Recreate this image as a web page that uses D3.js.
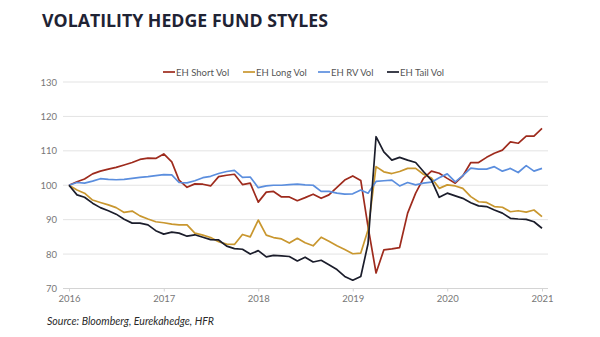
<!DOCTYPE html>
<html>
<head>
<meta charset="utf-8">
<script src="https://cdn.jsdelivr.net/npm/d3@7"></script>
<style>
  html, body { margin: 0; padding: 0; background: #fff; }
  svg { display: block; }
</style>
</head>
<body>
<svg id="chart" width="600" height="337"></svg>
<script>
// ---- data (monthly, Jan 2016 – Jan 2021) ----
const startYear = 2016;
const endYear = 2021;
const yTicks = [70, 80, 90, 100, 110, 120, 130];
const xTickYears = [2016, 2017, 2018, 2019, 2020, 2021];
const seriesNames = ["EH Short Vol", "EH Long Vol", "EH RV Vol", "EH Tail Vol"];

const shortVol = [100, 101, 101.8, 103.3, 104.1, 104.7, 105.2, 105.9, 106.6, 107.5, 107.9, 107.8, 109.1,
  106.8, 101.5, 99.4, 100.4, 100.3, 99.8, 102.5, 102.9, 103.2, 100.2, 100.6, 95.1,
  98, 98.2, 96.6, 96.6, 95.5, 96.4, 97.4, 96.2, 97.2, 99.4, 101.5, 102.7,
  101.4, 88, 74.5, 81.2, 81.5, 81.9, 91.9, 97.7, 102, 104.1, 103.5, 102,
  100.6, 102.7, 106.6, 106.6, 108.1, 109.3, 110.2, 112.6, 112.2, 114.3, 114.3, 116.5];

const longVol = [100, 98.6, 97.7, 95.7, 95, 94.3, 93.5, 92.1, 92.5, 91.1, 90.2, 89.4, 89.1,
  88.7, 88.5, 88.5, 86.1, 85.5, 84.8, 83.6, 82.9, 82.8, 85.7, 85, 89.9,
  85.5, 84.8, 84.4, 83.2, 84.6, 83.3, 82.4, 84.9, 83.7, 82.4, 81.3, 80.1,
  80.3, 87, 105.4, 103.9, 103.4, 104, 104.9, 104.9, 103.2, 102.1, 99.1, 100.1,
  99.8, 99.1, 96.7, 95.2, 95, 93.8, 93.6, 92.3, 92.6, 92.2, 92.8, 90.9];

const rvVol = [100, 100.8, 100.6, 101.2, 101.9, 101.7, 101.6, 101.7, 102, 102.3, 102.5, 102.8, 103.1,
  103, 100.8, 100.7, 101.3, 102.2, 102.6, 103.4, 104, 104.3, 102.3, 102.4, 99.3,
  99.8, 100, 100, 100.2, 100.3, 100.1, 100, 98.2, 98.2, 97.7, 97.4, 97.5,
  98.6, 97.7, 101.1, 101.3, 101.5, 99.8, 100.8, 100.1, 100.6, 100.9, 102.2, 103.3,
  101, 102.8, 105, 104.7, 104.7, 105.4, 104.1, 104.9, 103.7, 105.7, 104.1, 104.9];

const tailVol = [100, 97.2, 96.5, 94.8, 93.5, 92.6, 91.6, 90.1, 89, 89, 88.5, 86.8, 85.8,
  86.4, 86.1, 85.2, 85.6, 84.9, 84.2, 84.1, 82.3, 81.6, 81.4, 80, 81,
  79.2, 79.6, 79.5, 79.3, 78, 79.1, 77.7, 78.2, 76.9, 75.5, 73.5, 72.4,
  73.5, 83, 114.1, 109.7, 107.3, 108.1, 107.3, 106.6, 104, 101.5, 96.5, 97.7,
  96.9, 96.2, 94.9, 94, 93.8, 92.8, 91.9, 90.4, 90.2, 90.1, 89.4, 87.5];

const colors = ["#9e2b1d", "#c9972f", "#5b8ede", "#1b1d2b"];
const allSeries = [shortVol, longVol, rvVol, tailVol];

// ---- layout ----
const svg = d3.select("#chart");

const dates = shortVol.map((_, i) => new Date(startYear, i, 1));

const x = d3.scaleTime()
  .domain([new Date(startYear, 0, 1), new Date(endYear, 0, 1)])
  .range([69, 542]);

const y = d3.scaleLinear()
  .domain([70, 130])
  .range([288.5, 82]);

// title
svg.append("text")
  .attr("x", 42).attr("y", 27)
  .attr("font-family", "'Open Sans', sans-serif")
  .attr("font-weight", 700)
  .attr("font-size", 17)
  .attr("textLength", 286)
  .attr("lengthAdjust", "spacingAndGlyphs")
  .attr("fill", "#1f2334")
  .text("VOLATILITY HEDGE FUND STYLES");

// gridlines
const grid = svg.append("g");
grid.selectAll("line").data(yTicks).join("line")
  .attr("x1", 63).attr("x2", 548)
  .attr("y1", d => y(d)).attr("y2", d => y(d))
  .attr("stroke", d => d === 70 ? "#d4d4d4" : "#e3e3e3")
  .attr("stroke-width", 1);

// y axis labels
const yAxis = d3.axisLeft(y).tickValues(yTicks).tickSize(0).tickPadding(0);
svg.append("g")
  .attr("transform", "translate(57,0)")
  .call(yAxis)
  .call(g => g.select(".domain").remove())
  .call(g => g.selectAll("text")
    .attr("font-family", "Lato, sans-serif")
    .attr("font-size", 9.5)
    .attr("fill", "#777"));

// x axis
const xAxis = d3.axisBottom(x)
  .tickValues(xTickYears.map(yv => new Date(yv, 0, 1)))
  .tickFormat(d3.timeFormat("%Y"))
  .tickSize(3).tickPadding(4);
svg.append("g")
  .attr("transform", `translate(0,${y(70)})`)
  .call(xAxis)
  .call(g => g.select(".domain").remove())
  .call(g => g.selectAll("line").attr("stroke", "#d4d4d4"))
  .call(g => g.selectAll("text")
    .attr("font-family", "Lato, sans-serif")
    .attr("font-size", 9.5)
    .attr("fill", "#777"));

// lines
const line = d3.line()
  .x((d, i) => x(dates[i]))
  .y(d => y(d));

svg.append("g").selectAll("path").data(allSeries).join("path")
  .attr("d", d => line(d))
  .attr("fill", "none")
  .attr("stroke", (d, i) => colors[i])
  .attr("stroke-width", 1.7)
  .attr("stroke-linejoin", "round");

// legend
const legendX = [163, 243, 318, 387];
const legend = svg.append("g");
seriesNames.forEach((name, i) => {
  legend.append("line")
    .attr("x1", legendX[i]).attr("x2", legendX[i] + 12)
    .attr("y1", 72).attr("y2", 72)
    .attr("stroke", colors[i]).attr("stroke-width", 1.7);
  legend.append("text")
    .attr("x", legendX[i] + 13).attr("y", 75.5)
    .attr("font-family", "Lato, sans-serif")
    .attr("font-size", 9.5)
    .attr("fill", "#555")
    .text(name);
});

// source
svg.append("text")
  .attr("x", 47).attr("y", 325)
  .attr("font-family", "Lato, sans-serif")
  .attr("font-style", "italic")
  .attr("font-size", 10.5)
  .attr("textLength", 167)
  .attr("lengthAdjust", "spacingAndGlyphs")
  .attr("fill", "#2a2a2a")
  .text("Source: Bloomberg, Eurekahedge, HFR");
</script>
</body>
</html>
